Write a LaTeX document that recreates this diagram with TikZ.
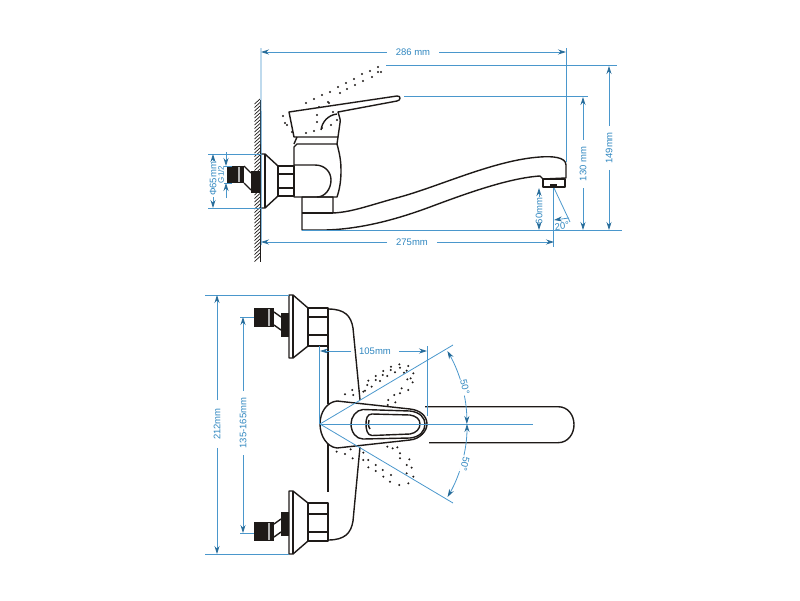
\documentclass[tikz,border=0pt]{standalone}
\usepackage{fontspec}
\setmainfont{Liberation Sans}
\usetikzlibrary{arrows.meta}
\definecolor{dimblue}{HTML}{4A97CC}
\definecolor{dimtext}{HTML}{2F86BF}
\definecolor{inkblack}{HTML}{1E1A18}
\tikzset{
	part/.style={draw=inkblack,line width=1.4pt,line join=round},
	dimline/.style={draw=dimblue,line width=.8pt},
	dimarrow/.style={dimline,-{Stealth[length=8pt,width=5pt,color=dimtext!80!black]}},
	dimarrows/.style={dimline,{Stealth[length=8pt,width=5pt,color=dimtext!80!black]}-{Stealth[length=8pt,width=5pt,color=dimtext!80!black]}},
	dimlabel/.style={text=dimtext,font=\fontsize{9.5}{10}\selectfont,inner sep=4pt,outer sep=0pt},
}
% one wall valve of the lower view
\newcommand{\wallvalve}{
	\draw[part] (289,295) -- (293,295) -- (308,308) -- (308,346) -- (293,358) -- (289,358) -- cycle;
	\draw[part] (293,295) -- (293,358);
	\draw[part] (308,308) rectangle (328,346);
	\draw[part,line width=2pt] (308,317) -- (328,317);
	\draw[part,line width=2.4pt] (308,335) -- (328,335);
	\fill[inkblack] (281,313) rectangle (289,337);
	\draw[part] (281,317) -- (274,312) (281,330) -- (274,325);
	\fill[inkblack] (254,308) rectangle (274,327);
	\fill[gray!60] (268,309) rectangle (270,326);
}
\begin{document}
\begin{tikzpicture}[x=1pt,y=-1pt]
	\useasboundingbox (0,0) rectangle (800,600);

	% wall
	\foreach \y in {104,107.5,...,262}
		\draw[inkblack,line width=.7pt] (254.5,\y) -- ++(5.5,-5);
	\draw[part] (260.3,100) -- (260.3,262);

	% upper view: spout
	\draw[part] (333,197) -- (333,213) .. controls (353,212) and (370,205) .. (400,197)
		.. controls (440,186) and (495,160) .. (540,157)
		.. controls (552,156) and (566,157) .. (566,165) -- (566,178) -- (543,179) -- (540,176)
		.. controls (510,178) and (470,192) .. (430,207)
		.. controls (395,220) and (355,231) .. (315,230) -- (302,230) -- (302,197) -- cycle;
	\draw[part] (302,213) -- (333,213);
	\draw[part] (543,179) rectangle (565,187);
	\fill[inkblack] (550,184) rectangle (557,187);

	% upper view: body
	\draw[part] (294,197) -- (294,147) -- (297,144) -- (337,144)
		.. controls (340,155) and (341,162) .. (341,170)
		.. controls (341,180) and (340,188) .. (337,197) -- cycle;
	\draw[part] (294,165) -- (315,165) .. controls (325,165) and (331,172) .. (331,180)
		.. controls (331,189) and (325,197) .. (317,197);
	\draw[part] (297,137) -- (294,144) (337,144) -- (338,137);

	% upper view: lever
	\draw[part] (289,112) -- (397,96) .. controls (401,95.5) and (401,100.5) .. (397,101)
		-- (338,112) .. controls (339,116) and (341,120) .. (340,123) -- (338,137) -- (294,137) -- cycle;
	\draw[part] (321,130) .. controls (322,122) and (328,115) .. (337,114);

	% upper view: flange, nut and inlet
	\draw[part] (261,154) -- (265,154) -- (278,166) -- (278,196) -- (265,208) -- (261,208);
	\draw[part] (265,154) -- (265,208);
	\draw[part] (278,166) rectangle (294,196);
	\draw[part,line width=2pt] (278,173.5) -- (294,173.5);
	\draw[part,line width=2pt] (278,188) -- (294,188);
	\fill[inkblack] (251,171) rectangle (260,193);
	\draw[part] (251,173) -- (244,166) (251,190) -- (244,183);
	\fill[inkblack] (227,166) rectangle (244,183);
	\fill[gray!60] (238,167) rectangle (240,182);

	% upper view: dots of the raised lever
	\foreach \x/\y in {306/103,314/99,322/95,330/92,338/87,346/83,354/79,362/74,370/71,378/67,
		329/103,340/93,347/89,355/85,363/81,372/77,381/72,378/72,
		283/116,285/123,287/125,292/132,306/133,314/131,317/115,317/122,322/128,331/125,333/112,337/120,319/107,328/102}
		\fill[inkblack] (\x,\y) circle[radius=1.1];

	% lower view: valves
	\wallvalve
	\begin{scope}[shift={(0,849)},yscale=-1]
		\wallvalve
	\end{scope}

	% lower view: plate
	\draw[part] (328,346) -- (328,404);
	\draw[part] (328,444) -- (328,492);
	\draw[part] (328,309) .. controls (345,309) and (351,316) .. (353,328) -- (360,400);
	\draw[part] (328,540) .. controls (345,540) and (351,533) .. (353,521) -- (360,447);

	% lower view: handle
	\draw[part] (337,401) .. controls (327,402) and (320,412) .. (320,424)
		.. controls (320,436) and (327,447) .. (337,448) -- (410,440)
		.. controls (420,439) and (427,431) .. (427,424)
		.. controls (427,416) and (420,410) .. (410,409) -- cycle;
	\draw[part] (363,409.5) -- (410,411) .. controls (420,412) and (425,418) .. (425,424)
		.. controls (425,431) and (420,437) .. (410,438) -- (363,439)
		.. controls (356,439) and (351,432) .. (351,424)
		.. controls (351,417) and (356,410) .. (363,409.5);
	\draw[part] (372,414) -- (410,415) .. controls (416,416) and (420,419) .. (420,424)
		.. controls (420,429) and (416,433) .. (410,434) -- (372,435.5)
		.. controls (367,435.5) and (366,429) .. (366,424)
		.. controls (366,419) and (367,414) .. (372,414);
	\draw[part] (369,420) .. controls (368,423) and (368,426) .. (370,429);
	\draw[part] (425,406.7) -- (558,406.7) .. controls (568,406.7) and (574,415) .. (574,424.7)
		.. controls (574,434) and (568,442.7) .. (558,442.7) -- (429,442.7);

	% lower view: dots of the swung lever
	\begin{scope}[shift={(310,340)},scale=.3333]
		\foreach \x/\y in {105/163,127/150,130/165,160/155,165/152,175/122,172/135,185/140,197/108,197/120,210/123,
			220/93,232/108,218/105,243/80,242/90,255/97,268/73,270/83,282/98,295/78,290/92,310/100,302/115,308/127,
			292/118,295/150,275/145,270/160,253/165,256/187,235/180,233/195,
			80/335,105/342,122/328,128/355,160/338,160/360,175/360,175/382,197/375,197/393,218/390,243/405,240/425,
			220/410,268/435,295/430,290/400,310/410,305/383,290/375,298/358,270/355,270/340,262/322,232/320,248/325}
			\fill[inkblack] (\x,\y) circle[radius=3.3];
	\end{scope}

	% upper view: dimensions
	\node[dimlabel,inner xsep=9pt] (total) at (413,52) {286 mm};
	\node[dimlabel,inner xsep=9pt] (reach) at (412,242) {275mm};
	\node[dimlabel,rotate=90,inner xsep=6pt] (high) at (609,148) {149mm};
	\node[dimlabel,rotate=90,inner xsep=7pt] (lever) at (583,164) {130 mm};
	\node[dimlabel,rotate=90,inner sep=1pt] (outlet) at (539,211) {60mm};
	\node[dimlabel,rotate=90,inner sep=1pt] (flange) at (213,179) {Φ65mm};
	\node[dimlabel,rotate=90,inner sep=0pt,font=\fontsize{8}{9}\selectfont] (thread) at (221,174.5) {G1/2};
	\node[dimlabel,rotate=6,inner sep=0pt] (tilt) at (562,226) {20°};
	\coordinate (corner) at (261,48);
	\draw[dimline] (corner) -- (261.3,245);
	\draw[dimline] (566,48) -- (566,162);
	\draw[dimline] (386,65.7) -- (617,65.7);
	\draw[dimline] (404,96.7) -- (588,96.7);
	\draw[dimline] (302,230) -- (622,230);
	\draw[dimline] (553.7,188) -- (553.7,247);
	\draw[dimline] (554,188) -- (570,222);
	\draw[dimline] (208,154) -- (261,154);
	\draw[dimline] (208,208) -- (261,208);
	\draw[dimline] (224,166) -- (232,166);
	\draw[dimline] (224,183) -- (232,183);
	\draw[dimarrow] (total) -- (261,52);
	\draw[dimarrow] (total) -- (566,52);
	\draw[dimarrow] (reach) -- (261,242);
	\draw[dimarrow] (reach) -- (554,242);
	\draw[dimarrow] (high) -- (609,66);
	\draw[dimarrow] (high) -- (609,230);
	\draw[dimarrow] (lever) -- (583,97);
	\draw[dimarrow] (lever) -- (583,230);
	\draw[dimarrow] (outlet) -- (539,188);
	\draw[dimarrow] (outlet) -- (539,230);
	\draw[dimarrow] (flange) -- (213,154);
	\draw[dimarrow] (flange) -- (213,208);
	\draw[dimarrow] (226,152) -- (226,166);
	\draw[dimarrow] (226,198) -- (226,183);
	\draw[dimarrow] (569,218) -- (554,220);

	% lower view: dimensions
	\coordinate (pivot) at (320,424);
	\draw[dimline] (205,295) -- (289,295);
	\draw[dimline] (205,554) -- (289,554);
	\draw[dimline] (240,317) -- (254,317);
	\draw[dimline] (240,533) -- (254,533);
	\draw[dimline] (319.5,346) -- (319.5,424);
	\draw[dimline] (427,346) -- (427,416);
	\draw[dimline] (pivot) -- (533,424);
	\draw[dimline] (pivot) -- (453,345);
	\draw[dimline] (pivot) -- (453,503);
	\node[dimlabel,inner xsep=8pt] (centre) at (375,351) {105mm};
	\node[dimlabel,rotate=90,inner xsep=8pt] (height) at (217,424) {212mm};
	\node[dimlabel,rotate=90,inner xsep=7pt] (spacing) at (243,423) {135-165mm};
	\draw[dimarrow] (centre) -- (320,351);
	\draw[dimarrow] (centre) -- (427,351);
	\draw[dimarrow] (height) -- (217,295);
	\draw[dimarrow] (height) -- (217,554);
	\draw[dimarrow] (spacing) -- (243,317);
	\draw[dimarrow] (spacing) -- (243,533);
	\draw[dimarrows] (447.4,351) arc[start angle=-29.8,end angle=0,radius=147];
	\draw[dimarrows] (467,424) arc[start angle=0,end angle=29.8,radius=147];
	\node[dimlabel,rotate=-77,fill=white,inner sep=1pt] (upper) at (465,387) {50°};
	\node[dimlabel,rotate=-103,fill=white,inner sep=1pt] (lower) at (465,464) {50°};
\end{tikzpicture}
\end{document}
